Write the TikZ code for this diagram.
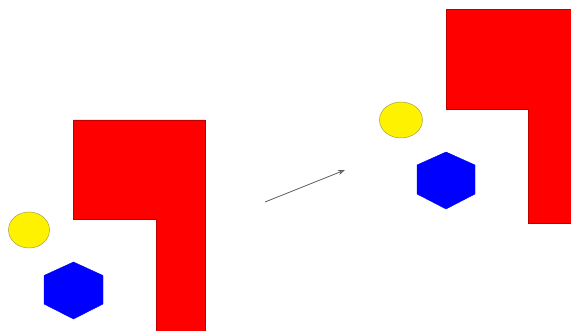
\documentclass[tikz,border=0pt]{standalone}
\usetikzlibrary{arrows.meta}
\begin{document}
\begin{tikzpicture}[x=1pt,y=-1pt,
  redshape/.style={fill=red,draw=red!75!black,line width=0.4pt},
  yellowdot/.style={fill=yellow,draw=yellow!60!black,line width=0.5pt},
  bluehex/.style={fill=blue,draw=blue,line width=0.4pt},
  movearrow/.style={draw=black!65,line width=0.8pt,-{Stealth[open,length=7pt,width=5pt]}}]
\useasboundingbox (0,0) rectangle (571,331);
% left group
\fill[redshape] (73,120) -- (205,120) -- (205,331) -- (156,331) -- (156,219) -- (73,219) -- cycle;
\draw[yellowdot] (29,230) ellipse [x radius=20.5, y radius=18];
\draw[bluehex] (73.5,262) -- (103,275.5) -- (103,304) -- (73.5,319) -- (44,304) -- (44,275.5) -- cycle;
% right group
\fill[redshape] (446,9.5) -- (571,9.5) -- (571,223) -- (528,223) -- (528,109) -- (446,109) -- cycle;
\draw[yellowdot] (401,120) ellipse [x radius=21.5, y radius=18];
\draw[bluehex] (446,152) -- (475,165) -- (475,194) -- (446,209) -- (417,194) -- (417,165) -- cycle;
% arrow
\coordinate (a) at (265,202);
\coordinate (b) at (345,170);
\draw[movearrow] (a) -- (b);
\end{tikzpicture}
\end{document}
